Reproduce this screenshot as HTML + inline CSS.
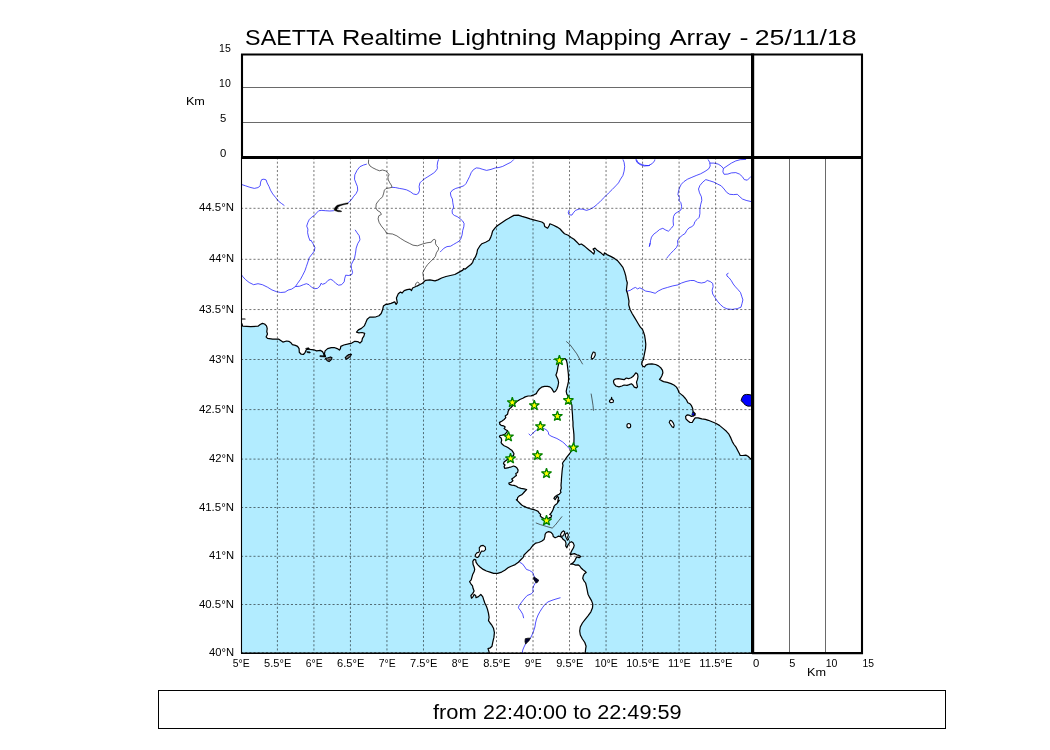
<!DOCTYPE html>
<html><head><meta charset="utf-8"><title>SAETTA Realtime Lightning Mapping Array</title>
<style>
html,body{margin:0;padding:0;background:#fff;}
body{width:1050px;height:750px;overflow:hidden;position:relative;}
svg{position:absolute;left:0;top:0;display:block;will-change:transform;opacity:0.999;}
text{font-family:"Liberation Sans",sans-serif;fill:#000;}
.t{font-size:10.4px;}
</style></head><body>
<svg width="1050" height="750" viewBox="0 0 1050 750">
<defs><clipPath id="mc"><rect x="241" y="157.5" width="511" height="495.6"/></clipPath>
</defs>
<rect x="0" y="0" width="1050" height="750" fill="#ffffff"/>
<g clip-path="url(#mc)">
<path d="M230.0 323.7 L241.9 323.7 L242.6 326.2 L250.7 326.7 L258.0 326.2 L260.2 324.5 L262.4 323.4 L264.6 324.0 L266.5 325.9 L267.2 328.4 L266.8 331.8 L267.5 334.0 L266.1 336.9 L267.5 338.4 L272.7 339.1 L278.5 339.1 L280.7 340.6 L282.9 342.1 L286.6 341.0 L288.8 341.3 L291.0 342.8 L292.4 344.6 L295.4 345.4 L297.6 346.4 L299.1 348.6 L299.3 352.3 L301.2 354.2 L303.4 354.5 L305.2 352.3 L306.1 350.1 L307.9 348.6 L310.1 349.4 L313.7 349.8 L316.6 350.9 L320.3 350.4 L322.5 351.6 L323.7 353.8 L324.0 355.7 L325.4 356.3 L324.4 353.8 L325.1 350.9 L327.6 348.6 L331.3 347.6 L334.2 347.5 L337.2 348.6 L339.4 350.1 L340.4 348.6 L340.8 346.4 L343.8 345.0 L347.4 344.2 L351.8 343.1 L354.8 341.3 L357.7 341.6 L359.9 343.1 L361.8 341.3 L362.4 338.4 L363.9 336.2 L364.7 333.3 L362.1 332.5 L358.9 332.8 L356.5 332.2 L358.4 329.9 L361.4 328.4 L364.3 325.9 L365.8 322.6 L367.2 319.3 L369.7 317.1 L373.1 317.1 L376.0 316.8 L379.0 315.7 L381.2 313.5 L382.6 309.8 L383.4 306.1 L386.0 304.2 L387.3 304.4 L391.0 303.4 L394.7 301.9 L396.1 304.4 L397.3 302.6 L396.4 297.9 L398.3 293.8 L400.5 292.1 L402.0 293.1 L404.2 290.6 L407.1 289.7 L410.1 289.1 L411.5 290.6 L412.6 288.0 L415.9 286.5 L419.6 284.8 L422.5 283.3 L425.4 280.4 L429.9 279.9 L435.0 280.9 L437.9 279.9 L441.6 278.0 L446.0 276.5 L450.4 275.5 L454.8 274.5 L459.2 272.1 L462.8 270.1 L463.6 268.6 L465.0 269.2 L468.0 266.7 L470.9 264.5 L472.7 262.3 L473.6 259.4 L475.3 257.2 L476.8 253.5 L477.5 249.8 L479.7 246.2 L481.9 243.7 L485.6 242.2 L489.2 240.3 L490.7 237.4 L491.7 234.5 L492.6 231.1 L495.1 227.9 L497.3 225.7 L501.7 222.7 L506.1 219.8 L510.5 217.3 L513.9 215.4 L518.3 215.2 L522.0 216.4 L526.4 217.6 L530.1 218.8 L533.7 219.8 L538.1 221.0 L541.8 222.0 L544.0 223.5 L544.7 226.4 L547.6 228.2 L549.1 225.7 L549.9 223.8 L553.5 225.2 L557.2 227.1 L560.1 229.0 L562.3 231.5 L564.5 233.7 L568.2 235.2 L571.1 237.4 L574.0 239.3 L577.0 242.2 L579.2 244.7 L581.4 244.0 L585.0 246.6 L588.7 249.8 L591.6 252.1 L593.8 254.0 L594.6 251.3 L593.1 249.1 L595.0 248.1 L597.5 250.6 L601.2 253.1 L603.8 255.4 L604.4 252.8 L607.0 254.6 L610.7 256.4 L614.4 258.4 L617.3 260.4 L620.2 263.8 L622.9 267.4 L624.6 271.9 L625.8 276.2 L626.4 279.9 L627.3 282.8 L626.8 286.5 L626.4 290.2 L627.6 293.8 L628.3 297.5 L629.0 301.2 L628.7 304.8 L629.8 308.5 L630.2 309.8 L632.1 313.5 L634.3 317.1 L636.5 320.8 L638.4 324.0 L640.2 326.9 L642.4 329.3 L643.4 331.8 L644.6 335.4 L645.3 339.9 L645.8 344.2 L645.5 348.6 L644.6 353.1 L643.9 356.7 L643.4 359.6 L642.0 361.6 L641.7 364.1 L642.8 366.2 L644.6 367.0 L645.8 365.1 L648.3 364.1 L651.9 363.8 L655.6 364.5 L658.5 365.9 L660.7 367.7 L662.5 370.4 L662.9 372.8 L661.9 375.8 L660.7 378.0 L659.5 379.4 L661.5 380.6 L663.6 381.6 L667.3 382.4 L671.0 383.6 L673.9 385.0 L676.5 387.1 L678.0 389.7 L679.0 392.6 L681.2 394.4 L683.5 396.3 L685.4 398.5 L686.4 399.8 L687.8 402.7 L690.0 403.8 L691.5 405.7 L692.7 408.6 L693.0 411.5 L695.2 413.7 L693.7 415.9 L691.5 416.4 L689.3 415.2 L687.1 414.9 L685.6 416.4 L685.9 418.9 L687.8 420.8 L690.0 422.5 L692.2 422.5 L693.7 419.9 L695.2 417.8 L698.1 417.8 L701.8 418.9 L705.4 419.3 L708.4 420.3 L712.0 421.8 L715.7 423.3 L719.4 425.4 L723.0 428.4 L726.4 431.3 L728.9 434.2 L730.8 437.9 L732.3 441.6 L734.0 444.5 L736.2 447.4 L737.7 450.4 L739.2 453.3 L740.2 455.5 L742.8 455.5 L745.8 455.1 L748.0 456.2 L750.2 458.4 L752.1 460.4 L760.0 460.4 L760.0 660.0 L230.0 660.0 Z" fill="#b2ecff" stroke="none"/>
<path d="M499.4 422.4 L501.7 421.2 L504.1 419.5 L505.8 417.7 L505.2 415.9 L507.6 414.2 L508.2 411.2 L509.4 408.9 L511.1 407.5 L512.9 405.4 L515.2 403.0 L517.6 400.9 L519.9 399.5 L522.8 398.3 L525.2 396.9 L528.1 396.0 L531.1 395.8 L534.0 394.8 L536.3 393.6 L537.5 391.3 L539.3 389.0 L541.6 387.2 L544.5 386.4 L547.5 386.4 L549.8 386.9 L551.6 388.4 L552.8 390.4 L553.9 392.2 L555.5 391.3 L556.9 389.0 L558.0 386.0 L558.6 382.5 L558.0 379.6 L556.9 377.2 L555.9 374.9 L556.9 372.5 L557.5 369.6 L558.0 366.7 L558.6 364.3 L559.2 361.7 L560.4 359.6 L562.7 358.5 L565.1 358.7 L566.5 360.6 L567.2 363.7 L567.6 367.3 L568.0 370.8 L568.4 374.3 L568.6 378.4 L568.4 381.9 L567.6 385.4 L566.8 388.4 L566.2 391.3 L566.8 394.2 L568.4 396.6 L569.8 398.9 L570.9 401.9 L571.9 405.4 L572.1 410.1 L572.5 414.8 L572.7 419.5 L573.0 422.0 L573.0 426.1 L573.5 430.2 L573.9 434.4 L574.0 438.5 L573.9 442.6 L573.5 445.5 L572.7 447.8 L571.5 450.2 L570.4 452.5 L568.6 454.9 L566.8 457.2 L565.1 459.6 L563.7 461.3 L562.5 463.3 L563.0 465.4 L562.5 467.8 L562.1 471.3 L561.8 474.8 L561.5 478.3 L561.3 481.9 L561.0 485.4 L561.3 488.3 L560.4 490.7 L561.0 492.4 L559.2 494.2 L556.9 495.4 L555.1 496.5 L553.9 498.3 L555.1 499.7 L556.3 497.7 L557.5 496.5 L558.6 497.7 L558.0 500.0 L557.5 503.0 L559.2 500.3 L558.0 502.0 L556.9 503.8 L555.1 505.0 L553.9 506.7 L553.3 509.1 L552.2 511.4 L551.0 513.2 L549.8 514.4 L551.6 515.5 L551.0 517.3 L549.2 517.9 L548.1 519.6 L545.1 520.2 L543.4 518.2 L541.6 517.3 L540.2 515.9 L540.7 514.4 L539.3 513.2 L538.1 511.4 L536.3 510.5 L534.0 509.7 L531.6 509.1 L529.3 508.5 L527.0 507.7 L525.2 506.7 L523.4 506.1 L521.7 505.0 L519.9 503.2 L518.1 501.4 L516.4 499.7 L517.2 500.0 L517.6 497.7 L519.3 495.9 L521.7 494.8 L523.4 493.0 L525.2 491.0 L526.6 489.5 L524.0 488.9 L521.1 488.3 L518.1 487.5 L516.4 486.3 L514.0 485.4 L511.7 485.1 L509.4 484.4 L508.8 483.0 L511.1 482.4 L512.9 480.7 L511.7 478.9 L513.5 477.8 L514.9 476.6 L516.4 475.4 L515.8 473.6 L517.6 472.5 L518.1 470.1 L517.0 468.0 L515.2 466.6 L513.5 466.0 L510.5 467.2 L507.6 467.8 L504.7 468.4 L504.1 466.6 L505.0 464.9 L503.5 463.7 L504.1 461.9 L506.4 460.2 L509.4 457.8 L511.7 456.6 L513.5 455.5 L514.0 453.7 L512.9 451.9 L511.7 450.2 L509.9 449.0 L508.2 447.8 L506.4 446.7 L504.1 445.7 L502.3 444.3 L501.1 442.6 L501.7 440.2 L501.1 437.9 L499.4 436.7 L500.0 435.5 L502.3 435.2 L504.7 434.4 L506.4 432.6 L507.6 430.8 L505.8 429.7 L504.1 428.5 L505.2 427.0 L503.5 425.8 L501.1 425.3 L499.6 424.1 L500.0 422.0 Z" fill="#ffffff" stroke="none"/>
<path d="M489.9 572.1 L493.6 573.4 L497.6 573.4 L501.6 572.1 L504.8 570.2 L508.0 567.8 L511.2 566.2 L515.2 564.6 L518.4 562.2 L520.8 559.8 L523.2 557.4 L524.0 555.0 L526.4 552.6 L528.8 550.2 L529.9 549.5 L531.6 547.2 L533.4 544.9 L535.8 543.1 L538.7 542.5 L541.6 541.3 L544.0 539.6 L544.9 536.6 L545.1 534.3 L546.3 532.5 L548.6 531.6 L551.0 532.3 L552.8 534.3 L553.3 536.6 L555.1 537.8 L556.9 537.0 L558.6 536.1 L560.4 536.6 L562.1 537.8 L563.3 539.6 L565.1 540.8 L566.0 543.1 L565.7 546.0 L566.8 547.8 L568.0 544.9 L569.8 542.5 L571.5 541.7 L573.3 543.1 L574.2 545.4 L573.5 547.8 L572.1 550.1 L570.9 552.5 L570.4 554.8 L572.1 554.2 L574.5 553.6 L576.8 554.8 L579.1 555.4 L580.9 556.6 L579.1 557.8 L576.8 556.9 L575.6 558.9 L574.5 561.3 L572.7 563.0 L570.4 564.2 L573.3 564.2 L575.6 565.1 L578.0 564.8 L579.7 566.0 L580.9 567.7 L582.7 569.5 L585.0 571.2 L586.2 572.4 L584.4 573.8 L583.3 575.9 L582.7 578.3 L583.8 580.6 L585.6 583.0 L586.4 586.2 L587.2 590.2 L588.0 594.2 L589.6 597.4 L591.5 600.6 L592.8 604.1 L592.5 607.8 L590.9 611.8 L588.0 615.8 L584.8 619.8 L582.4 623.0 L580.3 627.0 L579.7 631.0 L580.3 635.0 L582.4 639.0 L584.8 642.5 L586.1 646.2 L585.6 649.4 L585.1 654.2 L489.6 654.2 L488.8 651.0 L488.0 648.6 L490.4 647.8 L492.0 646.2 L492.8 642.2 L493.9 637.4 L494.4 632.6 L493.6 628.6 L492.0 625.4 L490.1 623.0 L488.5 620.6 L489.1 617.4 L488.5 613.4 L487.5 609.4 L486.4 606.2 L484.8 603.0 L483.7 599.8 L482.7 596.6 L480.8 594.5 L478.4 596.6 L476.0 597.7 L475.7 595.5 L474.1 594.5 L473.1 596.6 L471.5 598.2 L470.9 595.5 L472.8 593.4 L474.1 591.0 L473.1 588.6 L472.5 585.9 L470.9 583.8 L469.6 581.7 L471.2 579.8 L472.0 576.9 L472.8 574.2 L474.1 571.8 L474.7 569.4 L474.1 567.0 L473.1 564.6 L472.8 561.4 L474.1 559.3 L475.7 559.8 L476.0 562.2 L477.6 564.6 L480.0 567.0 L483.2 569.4 L486.4 571.0 Z" fill="#ffffff" stroke="none"/>
<path d="M476.0 557.1 L475.2 555.0 L476.8 552.9 L478.9 552.3 L479.5 550.2 L479.2 547.8 L480.8 545.9 L483.2 545.4 L485.3 547.0 L485.6 549.7 L483.7 551.3 L481.6 551.0 L480.5 552.9 L479.2 555.5 L477.9 557.4 Z" fill="#ffffff" stroke="none"/>
<path d="M560.4 534.9 L561.5 532.5 L563.3 530.8 L564.8 532.0 L564.1 534.3 L562.7 536.1 L561.3 536.3 Z" fill="#ffffff" stroke="none"/>
<path d="M565.7 533.7 L567.4 532.8 L568.4 534.9 L567.6 537.2 L568.6 539.3 L567.4 540.2 L566.2 537.8 L565.3 535.8 Z" fill="#ffffff" stroke="none"/>
<path d="M613.8 380.2 L615.3 379.1 L618.2 378.7 L621.1 379.1 L624.1 379.7 L626.3 378.0 L628.5 378.7 L631.1 377.7 L632.9 376.5 L634.3 374.8 L635.8 372.8 L637.5 373.9 L638.0 376.5 L637.5 379.4 L636.5 382.1 L637.0 384.6 L637.5 386.8 L636.5 387.9 L634.3 387.1 L632.9 385.0 L631.4 383.8 L629.2 384.6 L627.0 385.3 L624.1 385.0 L621.9 386.0 L618.9 386.8 L616.0 386.0 L614.1 383.8 L613.5 381.6 Z" fill="#ffffff" stroke="none"/>
<path d="M611.6 397.3 L612.0 399.1 L613.5 400.5 L613.1 402.3 L610.9 402.7 L609.4 401.7 L609.7 400.2 L611.2 399.4 Z" fill="#ffffff" stroke="none"/>
<path d="M670.2 420.3 L671.7 420.8 L673.2 422.8 L674.2 425.4 L673.6 427.6 L672.2 426.9 L670.7 424.7 L669.2 422.5 Z" fill="#ffffff" stroke="none"/>
<path d="M593.2 352.0 L595.0 352.6 L595.3 354.9 L594.2 357.3 L592.3 359.1 L591.2 357.9 L591.8 354.9 Z" fill="#ffffff" stroke="none"/>
<path d="M325.4 358.2 L328.1 357.7 L330.6 356.9 L332.0 357.7 L331.3 359.6 L329.1 361.6 L327.2 360.7 Z" fill="#777" stroke="none"/>
<path d="M345.2 357.7 L346.7 356.0 L348.9 354.5 L351.5 354.2 L350.4 356.3 L348.2 358.2 L346.3 359.2 Z" fill="#777" stroke="none"/>
<ellipse cx="628.8" cy="425.7" rx="1.9" ry="2.2" fill="#fff"/>
<g fill="none" stroke="#1515ff" stroke-width="0.75" stroke-linejoin="round">
<path d="M241.9 184.6 L245.5 185.8 L249.9 187.3 L254.3 188.4 L258.0 187.6 L260.2 185.8 L260.6 182.1 L261.7 179.6 L263.9 179.2 L266.1 179.9 L267.1 182.9 L269.0 186.5 L270.5 190.2 L272.7 193.9 L275.6 197.5 L278.5 201.2 L281.4 203.4 L284.4 205.6"/>
<path d="M366.8 164.1 L363.6 165.0 L359.9 166.7 L357.0 170.4 L354.8 174.8 L354.5 179.2 L355.9 182.9 L357.4 186.5 L357.7 190.2 L356.2 193.4 L353.3 196.8 L351.1 200.2 L348.2 202.7"/>
<path d="M333.9 210.7 L329.8 211.0 L325.4 210.7 L321.8 210.4 L318.8 210.7 L316.6 212.9 L314.4 215.4 L311.5 217.3 L309.3 219.5 L307.9 222.4 L306.7 226.1 L307.9 229.1 L307.6 232.7 L308.6 237.1 L310.1 240.8 L310.8 240.0 L313.0 243.7 L314.9 247.3 L314.4 251.0 L312.2 253.9 L309.3 257.6 L307.9 262.0 L306.4 266.4 L304.9 270.8 L302.7 275.2 L300.5 279.3 L297.6 283.3 L295.4 286.6 L291.7 289.1 L288.1 290.1 L285.1 292.1 L280.7 292.5 L276.3 291.6 L271.9 289.9 L267.5 287.2 L262.4 284.7 L258.0 283.7 L253.6 284.7 L249.2 282.5 L245.5 279.6 L242.6 276.4 L241.9 275.2"/>
<path d="M355.1 229.8 L357.0 232.7 L359.2 235.7 L359.9 239.3 L359.9 240.0 L357.7 243.7 L356.2 248.1 L355.5 253.2 L354.5 258.3 L352.6 262.0 L351.1 264.9 L351.5 268.6 L352.6 272.3 L351.8 274.5 L348.9 275.5 L345.7 275.2 L344.8 278.1 L344.2 281.8 L341.6 284.7 L338.6 285.2 L335.7 283.3 L332.8 280.3 L330.6 279.3 L328.1 280.3 L325.4 283.3 L322.5 284.3 L321.0 283.3 L319.9 286.2 L317.4 288.4 L314.4 288.7 L311.5 287.2 L309.0 284.7 L306.4 283.7 L303.4 284.7 L299.8 286.2 L295.4 286.6"/>
<path d="M392.0 187.3 L395.7 187.6 L399.3 188.4 L403.0 189.0 L406.7 189.9 L410.3 191.7 L413.3 193.9 L416.2 194.6 L418.4 193.4 L419.6 190.2 L419.1 186.5 L419.9 182.9 L422.1 180.7 L425.0 178.5 L427.9 176.7 L430.9 174.8 L433.8 172.9 L436.0 170.8 L437.4 168.5 L437.2 165.3 L437.7 162.0 L438.6 159.4"/>
<path d="M513.9 159.4 L511.7 161.6 L510.8 162.3 L507.1 164.1 L502.7 166.4 L499.0 167.5 L495.4 167.9 L491.0 169.4 L486.6 170.4 L482.9 169.4 L479.2 168.2 L476.3 167.9 L473.4 169.7 L471.2 172.6 L469.7 176.3 L467.9 179.9 L466.0 183.6 L463.8 185.8 L459.7 187.3 L455.8 188.4 L452.4 190.2 L450.4 192.8 L450.9 196.1 L452.4 199.0 L452.8 202.7 L453.6 207.1 L452.1 210.7 L452.4 213.7 L454.3 215.4 L457.2 216.6 L460.2 218.8 L462.7 221.0 L464.1 223.6 L463.8 226.8 L462.7 230.5 L462.1 234.9 L460.9 238.6 L459.1 241.2 L456.5 242.7 L453.6 244.4 L450.6 246.2 L447.0 246.6 L444.1 248.1 L441.9 250.3 L440.1 252.1"/>
<path d="M622.9 159.4 L624.1 162.3 L624.7 166.7 L624.1 171.1 L622.9 175.5 L620.5 179.2 L618.5 182.9 L615.8 185.8 L612.2 189.5 L608.5 193.1 L604.8 196.8 L601.2 200.4 L597.5 204.1 L593.8 207.1 L590.2 209.2 L586.5 210.4 L582.8 209.2 L579.2 209.0 L575.5 210.4 L573.3 212.9 L571.9 215.1 L569.2 214.8 L568.2 212.9 L569.2 210.0"/>
<path d="M635.8 159.4 L636.9 162.3 L639.8 164.5 L644.2 166.0 L648.6 165.6 L652.3 163.5 L654.5 160.9 L654.9 159.4"/>
<path d="M708.0 159.4 L709.7 162.3 L710.2 166.0 L708.7 168.9 L705.0 171.4 L700.6 173.8 L696.2 175.5 L691.9 177.3 L687.5 179.2 L683.8 181.7 L681.3 184.3 L679.4 188.0 L678.4 191.7 L677.9 194.6 L679.4 197.5 L678.9 200.4 L680.9 202.7 L681.6 206.3 L680.9 210.0 L677.9 211.9 L675.0 213.7 L673.5 216.6 L673.1 221.0 L673.5 225.4 L671.3 228.3 L668.4 231.2 L665.8 230.1 L662.8 228.3 L659.6 229.5 L656.7 232.0 L653.7 234.2 L651.5 237.1 L650.5 240.8 L650.1 244.4 L649.3 246.6"/>
<path d="M666.6 258.4 L668.1 256.5 L670.6 253.5 L673.5 250.6 L676.5 247.4 L677.9 244.4 L677.5 240.8 L679.4 237.8 L682.3 235.3 L685.2 233.4 L686.7 230.5 L688.9 228.0 L691.9 226.6 L694.0 224.7 L694.8 221.7 L697.0 219.5 L699.2 217.3 L699.9 213.7 L699.9 209.2 L700.6 204.8 L701.8 200.4 L701.4 196.8 L699.5 192.8 L698.5 189.0 L699.9 185.5 L702.8 182.1 L705.8 179.6 L709.4 180.7 L713.8 182.1 L717.5 184.0 L721.2 185.8 L724.1 189.0 L726.7 192.4 L729.7 194.3 L733.6 194.6 L737.3 194.3 L739.9 196.8 L742.4 199.0 L746.1 200.4 L751.2 201.6"/>
<path d="M709.7 163.1 L713.8 163.1 L718.2 164.1 L721.2 166.0 L723.4 168.5 L722.9 171.9 L724.1 174.3 L727.8 174.1 L731.4 172.9 L735.8 172.6 L739.5 174.1 L742.4 176.7 L744.3 179.6 L747.3 180.2 L749.8 177.7 L751.2 176.3"/>
<path d="M723.4 168.5 L727.0 166.0 L731.4 163.1 L735.8 160.9 L740.2 159.7 L746.1 159.4"/>
<path d="M626.6 291.4 L630.3 290.3 L633.2 288.4 L635.4 287.4 L637.6 288.9 L639.8 287.8 L642.0 288.9 L645.7 291.1 L650.1 291.8 L655.2 293.3 L658.1 291.1 L662.5 288.9 L667.6 287.4 L672.8 285.9 L677.9 284.9 L681.6 283.0 L686.0 281.5 L690.4 280.5 L694.0 280.5 L697.7 282.3 L701.4 283.0 L705.0 282.3 L707.2 280.5 L710.2 281.5 L712.7 283.4 L713.1 286.7 L712.1 290.3 L712.7 294.0 L715.0 297.6 L717.5 301.3 L720.4 304.6 L723.4 307.2 L727.0 308.9 L732.2 309.4 L737.3 308.6 L741.0 307.2 L742.0 303.5 L742.9 299.9 L741.7 296.2 L740.5 292.5 L738.0 289.6 L735.5 286.9 L733.2 284.0 L731.4 280.8 L729.2 277.9 L727.0 276.1 L726.7 274.2 L728.5 273.2"/>
<path d="M636.4 159.4 L637.8 162.3 L640.8 164.1 L644.4 165.3 L648.1 165.6 L650.0 165.3"/>
<path d="M650.0 243.0 L649.3 246.6"/>
<path d="M528.7 433.8 L530.5 435.5 L532.2 434.0 L534.0 432.0 L536.3 430.2 L538.7 429.1 L541.6 428.5 L544.5 428.8 L546.9 430.2 L548.4 432.4 L548.6 434.4 L551.0 436.1 L553.9 437.3 L556.9 438.5 L559.8 440.2 L562.7 442.0 L565.1 444.1 L566.8 446.1 L568.6 447.8 L570.9 449.0"/>
<path d="M519.5 562.2 L522.4 563.8 L524.8 567.0 L526.4 569.4 L529.6 570.5 L532.8 572.6 L533.9 575.8 L535.2 578.5"/>
<path d="M535.5 582.7 L533.9 585.4 L532.8 588.6 L533.3 591.8 L531.2 593.9 L527.2 595.5 L524.0 599.0 L521.6 602.2 L519.2 605.4 L518.4 607.8 L520.8 611.0 L522.7 614.2 L523.7 618.2"/>
<path d="M560.5 597.7 L556.0 599.0 L552.0 600.3 L548.0 601.9 L544.8 604.6 L542.4 607.8 L540.0 611.5 L538.1 615.0 L536.5 619.0 L535.5 623.0 L534.9 627.0 L533.6 631.0 L532.0 635.0 L530.4 638.2"/>
<path d="M525.6 643.8 L524.0 647.0 L522.7 650.2 L522.1 654.2"/>
</g>
<g fill="#0000ff" stroke="#000" stroke-width="0.8" stroke-linejoin="round">
<path d="M753.0 395.2 L751.2 395.1 L749.0 394.6 L746.6 394.4 L743.8 395.0 L742.6 396.6 L741.6 398.6 L741.2 400.6 L741.8 401.6 L743.0 402.2 L743.8 403.6 L745.4 405.0 L747.4 406.0 L749.4 406.2 L751.2 405.9 L753.0 405.8 Z" stroke-width="1.0"/>
<path d="M348.2 202.8 L345.6 203.2 L342.4 203.9 L339.2 204.7 L337.2 205.3 L335.8 206.4 L334.8 207.8 L334.1 209.6 L334.5 210.6 L336.0 211.0 L338.0 211.7 L341.2 211.8 L341.8 211.2 L340.0 210.6 L337.8 210.2 L336.8 209.7 L337.2 208.4 L338.2 207.0 L340.0 205.9 L342.8 205.0 L346.0 204.3 L348.0 203.9 Z" fill="#000" stroke-width="0.4"/>
<path d="M533.9 576.9 L535.5 577.9 L537.1 579.0 L538.7 580.1 L537.6 582.2 L536.0 583.0 L534.9 581.1 L533.6 579.0 Z" fill="#000030"/>
<path d="M525.3 638.7 L528.0 638.2 L530.4 638.2 L529.1 640.6 L527.2 642.5 L525.6 644.1 L525.0 641.4 Z" fill="#000030"/>
<path d="M692.7 412.0 L694.7 414.0 L695.6 415.2 L693.3 415.8 L691.8 414.9 Z" stroke-width="0.6"/>
</g>
<g fill="none" stroke="#222" stroke-width="0.7" stroke-linejoin="round">
<path d="M424.0 280.4 L423.3 276.2 L422.8 272.6 L424.0 270.4 L425.4 267.7 L427.6 264.5 L430.6 261.6 L433.5 258.6 L435.4 256.4 L436.4 252.8 L438.4 249.8 L438.6 247.7 L436.4 245.4 L435.4 243.3 L435.7 240.3 L434.2 239.3 L432.5 240.3 L431.3 242.2 L426.9 242.8 L422.5 244.0 L417.4 245.8 L413.0 245.2 L409.3 243.3 L404.9 241.1 L400.5 238.4 L396.9 235.9 L392.5 234.0 L388.8 233.7 L386.2 233.0 L386.1 232.0 L383.9 229.1 L381.4 226.1 L379.1 222.4 L378.1 218.8 L378.8 215.8 L381.4 214.4 L380.3 212.2 L377.3 210.4 L375.9 207.8 L376.2 204.1 L378.1 201.2 L380.3 199.0 L382.5 196.8 L383.5 193.9 L384.4 190.2 L386.1 188.4 L389.1 188.0 L392.0 187.3 L391.3 185.1 L389.8 182.9 L388.3 179.9 L387.9 177.0 L389.1 174.8 L387.6 172.6 L385.4 170.8 L382.5 170.0 L379.5 170.8 L376.6 169.7 L372.9 167.9 L370.0 166.0 L368.4 163.1 L368.7 159.4"/>
<path d="M415.2 285.8 L415.9 283.3 L417.8 282.1 L419.3 283.3 L418.9 285.3 L417.4 286.5"/>
<path d="M566.2 341.4 L569.8 344.4 L573.3 349.1 L576.8 353.8 L579.7 359.1 L582.7 364.3"/>
<path d="M591.1 393.6 L592.0 398.9 L593.0 405.4 L593.5 410.7"/>
<path d="M535.8 522.9 L540.4 524.6 L546.3 526.4 L552.2 528.1 L555.1 525.3 L558.6 520.8 L562.1 516.4"/>
</g>
<g fill="none" stroke="#000" stroke-width="1.22" stroke-linejoin="round" stroke-linecap="round">
<path d="M241.9 323.7 L242.6 326.2 L250.7 326.7 L258.0 326.2 L260.2 324.5 L262.4 323.4 L264.6 324.0 L266.5 325.9 L267.2 328.4 L266.8 331.8 L267.5 334.0 L266.1 336.9 L267.5 338.4 L272.7 339.1 L278.5 339.1 L280.7 340.6 L282.9 342.1 L286.6 341.0 L288.8 341.3 L291.0 342.8 L292.4 344.6 L295.4 345.4 L297.6 346.4 L299.1 348.6 L299.3 352.3 L301.2 354.2 L303.4 354.5 L305.2 352.3 L306.1 350.1 L307.9 348.6 L310.1 349.4 L313.7 349.8 L316.6 350.9 L320.3 350.4 L322.5 351.6 L323.7 353.8 L324.0 355.7 L325.4 356.3 L324.4 353.8 L325.1 350.9 L327.6 348.6 L331.3 347.6 L334.2 347.5 L337.2 348.6 L339.4 350.1 L340.4 348.6 L340.8 346.4 L343.8 345.0 L347.4 344.2 L351.8 343.1 L354.8 341.3 L357.7 341.6 L359.9 343.1 L361.8 341.3 L362.4 338.4 L363.9 336.2 L364.7 333.3 L362.1 332.5 L358.9 332.8 L356.5 332.2 L358.4 329.9 L361.4 328.4 L364.3 325.9 L365.8 322.6 L367.2 319.3 L369.7 317.1 L373.1 317.1 L376.0 316.8 L379.0 315.7 L381.2 313.5 L382.6 309.8 L383.4 306.1 L386.0 304.2 L387.3 304.4 L391.0 303.4 L394.7 301.9 L396.1 304.4 L397.3 302.6 L396.4 297.9 L398.3 293.8 L400.5 292.1 L402.0 293.1 L404.2 290.6 L407.1 289.7 L410.1 289.1 L411.5 290.6 L412.6 288.0 L415.9 286.5 L419.6 284.8 L422.5 283.3 L425.4 280.4 L429.9 279.9 L435.0 280.9 L437.9 279.9 L441.6 278.0 L446.0 276.5 L450.4 275.5 L454.8 274.5 L459.2 272.1 L462.8 270.1 L463.6 268.6 L465.0 269.2 L468.0 266.7 L470.9 264.5 L472.7 262.3 L473.6 259.4 L475.3 257.2 L476.8 253.5 L477.5 249.8 L479.7 246.2 L481.9 243.7 L485.6 242.2 L489.2 240.3 L490.7 237.4 L491.7 234.5 L492.6 231.1 L495.1 227.9 L497.3 225.7 L501.7 222.7 L506.1 219.8 L510.5 217.3 L513.9 215.4 L518.3 215.2 L522.0 216.4 L526.4 217.6 L530.1 218.8 L533.7 219.8 L538.1 221.0 L541.8 222.0 L544.0 223.5 L544.7 226.4 L547.6 228.2 L549.1 225.7 L549.9 223.8 L553.5 225.2 L557.2 227.1 L560.1 229.0 L562.3 231.5 L564.5 233.7 L568.2 235.2 L571.1 237.4 L574.0 239.3 L577.0 242.2 L579.2 244.7 L581.4 244.0 L585.0 246.6 L588.7 249.8 L591.6 252.1 L593.8 254.0 L594.6 251.3 L593.1 249.1 L595.0 248.1 L597.5 250.6 L601.2 253.1 L603.8 255.4 L604.4 252.8 L607.0 254.6 L610.7 256.4 L614.4 258.4 L617.3 260.4 L620.2 263.8 L622.9 267.4 L624.6 271.9 L625.8 276.2 L626.4 279.9 L627.3 282.8 L626.8 286.5 L626.4 290.2 L627.6 293.8 L628.3 297.5 L629.0 301.2 L628.7 304.8 L629.8 308.5 L630.2 309.8 L632.1 313.5 L634.3 317.1 L636.5 320.8 L638.4 324.0 L640.2 326.9 L642.4 329.3 L643.4 331.8 L644.6 335.4 L645.3 339.9 L645.8 344.2 L645.5 348.6 L644.6 353.1 L643.9 356.7 L643.4 359.6 L642.0 361.6 L641.7 364.1 L642.8 366.2 L644.6 367.0 L645.8 365.1 L648.3 364.1 L651.9 363.8 L655.6 364.5 L658.5 365.9 L660.7 367.7 L662.5 370.4 L662.9 372.8 L661.9 375.8 L660.7 378.0 L659.5 379.4 L661.5 380.6 L663.6 381.6 L667.3 382.4 L671.0 383.6 L673.9 385.0 L676.5 387.1 L678.0 389.7 L679.0 392.6 L681.2 394.4 L683.5 396.3 L685.4 398.5 L686.4 399.8 L687.8 402.7 L690.0 403.8 L691.5 405.7 L692.7 408.6 L693.0 411.5 L695.2 413.7 L693.7 415.9 L691.5 416.4 L689.3 415.2 L687.1 414.9 L685.6 416.4 L685.9 418.9 L687.8 420.8 L690.0 422.5 L692.2 422.5 L693.7 419.9 L695.2 417.8 L698.1 417.8 L701.8 418.9 L705.4 419.3 L708.4 420.3 L712.0 421.8 L715.7 423.3 L719.4 425.4 L723.0 428.4 L726.4 431.3 L728.9 434.2 L730.8 437.9 L732.3 441.6 L734.0 444.5 L736.2 447.4 L737.7 450.4 L739.2 453.3 L740.2 455.5 L742.8 455.5 L745.8 455.1 L748.0 456.2 L750.2 458.4 L752.1 460.4"/>
<path d="M499.4 422.4 L501.7 421.2 L504.1 419.5 L505.8 417.7 L505.2 415.9 L507.6 414.2 L508.2 411.2 L509.4 408.9 L511.1 407.5 L512.9 405.4 L515.2 403.0 L517.6 400.9 L519.9 399.5 L522.8 398.3 L525.2 396.9 L528.1 396.0 L531.1 395.8 L534.0 394.8 L536.3 393.6 L537.5 391.3 L539.3 389.0 L541.6 387.2 L544.5 386.4 L547.5 386.4 L549.8 386.9 L551.6 388.4 L552.8 390.4 L553.9 392.2 L555.5 391.3 L556.9 389.0 L558.0 386.0 L558.6 382.5 L558.0 379.6 L556.9 377.2 L555.9 374.9 L556.9 372.5 L557.5 369.6 L558.0 366.7 L558.6 364.3 L559.2 361.7 L560.4 359.6 L562.7 358.5 L565.1 358.7 L566.5 360.6 L567.2 363.7 L567.6 367.3 L568.0 370.8 L568.4 374.3 L568.6 378.4 L568.4 381.9 L567.6 385.4 L566.8 388.4 L566.2 391.3 L566.8 394.2 L568.4 396.6 L569.8 398.9 L570.9 401.9 L571.9 405.4 L572.1 410.1 L572.5 414.8 L572.7 419.5 L573.0 422.0 L573.0 426.1 L573.5 430.2 L573.9 434.4 L574.0 438.5 L573.9 442.6 L573.5 445.5 L572.7 447.8 L571.5 450.2 L570.4 452.5 L568.6 454.9 L566.8 457.2 L565.1 459.6 L563.7 461.3 L562.5 463.3 L563.0 465.4 L562.5 467.8 L562.1 471.3 L561.8 474.8 L561.5 478.3 L561.3 481.9 L561.0 485.4 L561.3 488.3 L560.4 490.7 L561.0 492.4 L559.2 494.2 L556.9 495.4 L555.1 496.5 L553.9 498.3 L555.1 499.7 L556.3 497.7 L557.5 496.5 L558.6 497.7 L558.0 500.0 L557.5 503.0 L559.2 500.3 L558.0 502.0 L556.9 503.8 L555.1 505.0 L553.9 506.7 L553.3 509.1 L552.2 511.4 L551.0 513.2 L549.8 514.4 L551.6 515.5 L551.0 517.3 L549.2 517.9 L548.1 519.6 L545.1 520.2 L543.4 518.2 L541.6 517.3 L540.2 515.9 L540.7 514.4 L539.3 513.2 L538.1 511.4 L536.3 510.5 L534.0 509.7 L531.6 509.1 L529.3 508.5 L527.0 507.7 L525.2 506.7 L523.4 506.1 L521.7 505.0 L519.9 503.2 L518.1 501.4 L516.4 499.7 L517.2 500.0 L517.6 497.7 L519.3 495.9 L521.7 494.8 L523.4 493.0 L525.2 491.0 L526.6 489.5 L524.0 488.9 L521.1 488.3 L518.1 487.5 L516.4 486.3 L514.0 485.4 L511.7 485.1 L509.4 484.4 L508.8 483.0 L511.1 482.4 L512.9 480.7 L511.7 478.9 L513.5 477.8 L514.9 476.6 L516.4 475.4 L515.8 473.6 L517.6 472.5 L518.1 470.1 L517.0 468.0 L515.2 466.6 L513.5 466.0 L510.5 467.2 L507.6 467.8 L504.7 468.4 L504.1 466.6 L505.0 464.9 L503.5 463.7 L504.1 461.9 L506.4 460.2 L509.4 457.8 L511.7 456.6 L513.5 455.5 L514.0 453.7 L512.9 451.9 L511.7 450.2 L509.9 449.0 L508.2 447.8 L506.4 446.7 L504.1 445.7 L502.3 444.3 L501.1 442.6 L501.7 440.2 L501.1 437.9 L499.4 436.7 L500.0 435.5 L502.3 435.2 L504.7 434.4 L506.4 432.6 L507.6 430.8 L505.8 429.7 L504.1 428.5 L505.2 427.0 L503.5 425.8 L501.1 425.3 L499.6 424.1 L500.0 422.0 Z"/>
<path d="M489.9 572.1 L493.6 573.4 L497.6 573.4 L501.6 572.1 L504.8 570.2 L508.0 567.8 L511.2 566.2 L515.2 564.6 L518.4 562.2 L520.8 559.8 L523.2 557.4 L524.0 555.0 L526.4 552.6 L528.8 550.2 L529.9 549.5 L531.6 547.2 L533.4 544.9 L535.8 543.1 L538.7 542.5 L541.6 541.3 L544.0 539.6 L544.9 536.6 L545.1 534.3 L546.3 532.5 L548.6 531.6 L551.0 532.3 L552.8 534.3 L553.3 536.6 L555.1 537.8 L556.9 537.0 L558.6 536.1 L560.4 536.6 L562.1 537.8 L563.3 539.6 L565.1 540.8 L566.0 543.1 L565.7 546.0 L566.8 547.8 L568.0 544.9 L569.8 542.5 L571.5 541.7 L573.3 543.1 L574.2 545.4 L573.5 547.8 L572.1 550.1 L570.9 552.5 L570.4 554.8 L572.1 554.2 L574.5 553.6 L576.8 554.8 L579.1 555.4 L580.9 556.6 L579.1 557.8 L576.8 556.9 L575.6 558.9 L574.5 561.3 L572.7 563.0 L570.4 564.2 L573.3 564.2 L575.6 565.1 L578.0 564.8 L579.7 566.0 L580.9 567.7 L582.7 569.5 L585.0 571.2 L586.2 572.4 L584.4 573.8 L583.3 575.9 L582.7 578.3 L583.8 580.6 L585.6 583.0 L586.4 586.2 L587.2 590.2 L588.0 594.2 L589.6 597.4 L591.5 600.6 L592.8 604.1 L592.5 607.8 L590.9 611.8 L588.0 615.8 L584.8 619.8 L582.4 623.0 L580.3 627.0 L579.7 631.0 L580.3 635.0 L582.4 639.0 L584.8 642.5 L586.1 646.2 L585.6 649.4 L585.1 654.2 L489.6 654.2 L488.8 651.0 L488.0 648.6 L490.4 647.8 L492.0 646.2 L492.8 642.2 L493.9 637.4 L494.4 632.6 L493.6 628.6 L492.0 625.4 L490.1 623.0 L488.5 620.6 L489.1 617.4 L488.5 613.4 L487.5 609.4 L486.4 606.2 L484.8 603.0 L483.7 599.8 L482.7 596.6 L480.8 594.5 L478.4 596.6 L476.0 597.7 L475.7 595.5 L474.1 594.5 L473.1 596.6 L471.5 598.2 L470.9 595.5 L472.8 593.4 L474.1 591.0 L473.1 588.6 L472.5 585.9 L470.9 583.8 L469.6 581.7 L471.2 579.8 L472.0 576.9 L472.8 574.2 L474.1 571.8 L474.7 569.4 L474.1 567.0 L473.1 564.6 L472.8 561.4 L474.1 559.3 L475.7 559.8 L476.0 562.2 L477.6 564.6 L480.0 567.0 L483.2 569.4 L486.4 571.0 Z"/>
<path d="M476.0 557.1 L475.2 555.0 L476.8 552.9 L478.9 552.3 L479.5 550.2 L479.2 547.8 L480.8 545.9 L483.2 545.4 L485.3 547.0 L485.6 549.7 L483.7 551.3 L481.6 551.0 L480.5 552.9 L479.2 555.5 L477.9 557.4 Z" stroke-width="1.1"/>
<path d="M560.4 534.9 L561.5 532.5 L563.3 530.8 L564.8 532.0 L564.1 534.3 L562.7 536.1 L561.3 536.3 Z" stroke-width="1.1"/>
<path d="M565.7 533.7 L567.4 532.8 L568.4 534.9 L567.6 537.2 L568.6 539.3 L567.4 540.2 L566.2 537.8 L565.3 535.8 Z" stroke-width="1.1"/>
<path d="M613.8 380.2 L615.3 379.1 L618.2 378.7 L621.1 379.1 L624.1 379.7 L626.3 378.0 L628.5 378.7 L631.1 377.7 L632.9 376.5 L634.3 374.8 L635.8 372.8 L637.5 373.9 L638.0 376.5 L637.5 379.4 L636.5 382.1 L637.0 384.6 L637.5 386.8 L636.5 387.9 L634.3 387.1 L632.9 385.0 L631.4 383.8 L629.2 384.6 L627.0 385.3 L624.1 385.0 L621.9 386.0 L618.9 386.8 L616.0 386.0 L614.1 383.8 L613.5 381.6 Z"/>
<path d="M611.6 397.3 L612.0 399.1 L613.5 400.5 L613.1 402.3 L610.9 402.7 L609.4 401.7 L609.7 400.2 L611.2 399.4 Z" stroke-width="1.1"/>
<path d="M670.2 420.3 L671.7 420.8 L673.2 422.8 L674.2 425.4 L673.6 427.6 L672.2 426.9 L670.7 424.7 L669.2 422.5 Z" stroke-width="1.1"/>
<path d="M593.2 352.0 L595.0 352.6 L595.3 354.9 L594.2 357.3 L592.3 359.1 L591.2 357.9 L591.8 354.9 Z" stroke-width="1.1"/>
<path d="M325.4 358.2 L328.1 357.7 L330.6 356.9 L332.0 357.7 L331.3 359.6 L329.1 361.6 L327.2 360.7 Z" stroke-width="1.1"/>
<path d="M345.2 357.7 L346.7 356.0 L348.9 354.5 L351.5 354.2 L350.4 356.3 L348.2 358.2 L346.3 359.2 Z" stroke-width="1.1"/>
<ellipse cx="628.8" cy="425.7" rx="1.9" ry="2.2" stroke-width="1.1"/>
<path d="M306.1 348.4 L308.6 347.8 L308.9 349.2 L306.7 349.5 Z" fill="#000" stroke-width="0.8"/>
<path d="M307.1 351.7 L310.1 352.0 L310.1 352.9 L307.6 352.6 Z" fill="#000" stroke-width="0.8"/>
<path d="M320.3 355.7 L325.4 356.0 L325.4 356.9 L320.3 356.6 Z" fill="#000" stroke-width="0.8"/>
<path d="M241 319 L245 319" stroke-width="1.2"/>
</g>
<g fill="none" stroke="#000" stroke-width="0.75" stroke-dasharray="2.08 2.08" opacity="0.72">
<path d="M277.40 157.5 V653"/>
<path d="M313.91 157.5 V653"/>
<path d="M350.43 157.5 V653"/>
<path d="M386.95 157.5 V653"/>
<path d="M423.47 157.5 V653"/>
<path d="M459.98 157.5 V653"/>
<path d="M496.50 157.5 V653"/>
<path d="M533.02 157.5 V653"/>
<path d="M569.53 157.5 V653"/>
<path d="M606.05 157.5 V653"/>
<path d="M642.57 157.5 V653"/>
<path d="M679.08 157.5 V653"/>
<path d="M715.60 157.5 V653"/>
<path d="M241 208.30 H752"/>
<path d="M241 259.30 H752"/>
<path d="M241 309.55 H752"/>
<path d="M241 359.50 H752"/>
<path d="M241 409.60 H752"/>
<path d="M241 459.10 H752"/>
<path d="M241 507.50 H752"/>
<path d="M241 556.30 H752"/>
<path d="M241 604.50 H752"/>
<path d="M241 652.70 H752"/>
</g>
<g fill="#ffff00" stroke="#008000" stroke-width="1.25" stroke-linejoin="bevel">
<path d="M559.40 355.10 L560.59 358.76 L564.44 358.76 L561.33 361.03 L562.52 364.69 L559.40 362.42 L556.28 364.69 L557.47 361.03 L554.36 358.76 L558.21 358.76 Z"/>
<path d="M512.30 397.20 L513.49 400.86 L517.34 400.86 L514.23 403.13 L515.42 406.79 L512.30 404.52 L509.18 406.79 L510.37 403.13 L507.26 400.86 L511.11 400.86 Z"/>
<path d="M534.30 400.10 L535.49 403.76 L539.34 403.76 L536.23 406.03 L537.42 409.69 L534.30 407.42 L531.18 409.69 L532.37 406.03 L529.26 403.76 L533.11 403.76 Z"/>
<path d="M568.40 395.00 L569.59 398.66 L573.44 398.66 L570.33 400.93 L571.52 404.59 L568.40 402.32 L565.28 404.59 L566.47 400.93 L563.36 398.66 L567.21 398.66 Z"/>
<path d="M557.40 410.90 L558.59 414.56 L562.44 414.56 L559.33 416.83 L560.52 420.49 L557.40 418.22 L554.28 420.49 L555.47 416.83 L552.36 414.56 L556.21 414.56 Z"/>
<path d="M540.40 421.20 L541.59 424.86 L545.44 424.86 L542.33 427.13 L543.52 430.79 L540.40 428.52 L537.28 430.79 L538.47 427.13 L535.36 424.86 L539.21 424.86 Z"/>
<path d="M508.50 431.40 L509.69 435.06 L513.54 435.06 L510.43 437.33 L511.62 440.99 L508.50 438.72 L505.38 440.99 L506.57 437.33 L503.46 435.06 L507.31 435.06 Z"/>
<path d="M573.50 442.40 L574.69 446.06 L578.54 446.06 L575.43 448.33 L576.62 451.99 L573.50 449.72 L570.38 451.99 L571.57 448.33 L568.46 446.06 L572.31 446.06 Z"/>
<path d="M537.50 450.20 L538.69 453.86 L542.54 453.86 L539.43 456.13 L540.62 459.79 L537.50 457.52 L534.38 459.79 L535.57 456.13 L532.46 453.86 L536.31 453.86 Z"/>
<path d="M510.50 453.30 L511.69 456.96 L515.54 456.96 L512.43 459.23 L513.62 462.89 L510.50 460.62 L507.38 462.89 L508.57 459.23 L505.46 456.96 L509.31 456.96 Z"/>
<path d="M546.50 468.20 L547.69 471.86 L551.54 471.86 L548.43 474.13 L549.62 477.79 L546.50 475.52 L543.38 477.79 L544.57 474.13 L541.46 471.86 L545.31 471.86 Z"/>
<path d="M546.50 515.30 L547.69 518.96 L551.54 518.96 L548.43 521.23 L549.62 524.89 L546.50 522.62 L543.38 524.89 L544.57 521.23 L541.46 518.96 L545.31 518.96 Z"/>
</g>
</g>
<g fill="none" stroke="#000">
<path d="M242 87.5 H751 M242 122.5 H751" stroke="#6a6a6a" stroke-width="1"/>
<path d="M789.5 158 V652 M825.5 158 V652" stroke="#6a6a6a" stroke-width="1"/>
<path d="M241.5 157 V653.4" stroke-width="1.1"/>
<path d="M241 653.2 H752" stroke-width="1.4"/>
<path d="M242 156.5 V54.5 H862 V653.1 H752" stroke-width="2.1" stroke-linejoin="miter"/>
<path d="M241 157.5 H863" stroke-width="3"/>
<path d="M752.6 53.5 V654.1" stroke-width="3.2"/>
<rect x="158.5" y="690.5" width="787" height="38" stroke-width="1"/>
</g>
<g opacity="0.999">
<text x="245.1" y="45.2" text-anchor="start" font-size="22.4" textLength="88.9" lengthAdjust="spacingAndGlyphs">SAETTA</text>
<text x="342.0" y="45.2" text-anchor="start" font-size="22.4" textLength="100.2" lengthAdjust="spacingAndGlyphs">Realtime</text>
<text x="450.8" y="45.2" text-anchor="start" font-size="22.4" textLength="105.7" lengthAdjust="spacingAndGlyphs">Lightning</text>
<text x="564.2" y="45.2" text-anchor="start" font-size="22.4" textLength="97.1" lengthAdjust="spacingAndGlyphs">Mapping</text>
<text x="669.4" y="45.2" text-anchor="start" font-size="22.4" textLength="61.4" lengthAdjust="spacingAndGlyphs">Array</text>
<text x="739.5" y="45.2" text-anchor="start" font-size="22.4" textLength="9.0" lengthAdjust="spacingAndGlyphs">-</text>
<text x="754.7" y="45.2" text-anchor="start" font-size="22.4" textLength="102.0" lengthAdjust="spacingAndGlyphs">25/11/18</text>
<text x="433.0" y="718.6" text-anchor="start" font-size="19.4" textLength="43.8" lengthAdjust="spacingAndGlyphs">from</text>
<text x="483.1" y="718.6" text-anchor="start" font-size="19.4" textLength="83.8" lengthAdjust="spacingAndGlyphs">22:40:00</text>
<text x="573.2" y="718.6" text-anchor="start" font-size="19.4" textLength="18.3" lengthAdjust="spacingAndGlyphs">to</text>
<text x="597.2" y="718.6" text-anchor="start" font-size="19.4" textLength="84.4" lengthAdjust="spacingAndGlyphs">22:49:59</text>
<text x="219.1" y="52.1" text-anchor="start" font-size="10.4" textLength="11.7" lengthAdjust="spacingAndGlyphs">15</text>
<text x="219.1" y="87.3" text-anchor="start" font-size="10.4" textLength="11.7" lengthAdjust="spacingAndGlyphs">10</text>
<text x="220.1" y="122.1" text-anchor="start" font-size="10.4" textLength="6.3" lengthAdjust="spacingAndGlyphs">5</text>
<text x="220.1" y="156.7" text-anchor="start" font-size="10.4" textLength="6.3" lengthAdjust="spacingAndGlyphs">0</text>
<text x="185.9" y="104.8" text-anchor="start" font-size="11.3" textLength="19.0" lengthAdjust="spacingAndGlyphs">Km</text>
<text x="753.1" y="666.7" text-anchor="start" font-size="10.4" textLength="6.3" lengthAdjust="spacingAndGlyphs">0</text>
<text x="789.3" y="666.7" text-anchor="start" font-size="10.4" textLength="6.1" lengthAdjust="spacingAndGlyphs">5</text>
<text x="825.7" y="666.7" text-anchor="start" font-size="10.4" textLength="11.7" lengthAdjust="spacingAndGlyphs">10</text>
<text x="862.5" y="666.7" text-anchor="start" font-size="10.4" textLength="11.5" lengthAdjust="spacingAndGlyphs">15</text>
<text x="807.1" y="676.4" text-anchor="start" font-size="11.3" textLength="19.0" lengthAdjust="spacingAndGlyphs">Km</text>
<text x="198.9" y="211.3" text-anchor="start" font-size="10.4" textLength="35.1" lengthAdjust="spacingAndGlyphs">44.5°N</text>
<text x="208.9" y="262.3" text-anchor="start" font-size="10.4" textLength="25.1" lengthAdjust="spacingAndGlyphs">44°N</text>
<text x="198.9" y="312.6" text-anchor="start" font-size="10.4" textLength="35.1" lengthAdjust="spacingAndGlyphs">43.5°N</text>
<text x="208.9" y="362.5" text-anchor="start" font-size="10.4" textLength="25.1" lengthAdjust="spacingAndGlyphs">43°N</text>
<text x="198.9" y="412.6" text-anchor="start" font-size="10.4" textLength="35.1" lengthAdjust="spacingAndGlyphs">42.5°N</text>
<text x="208.9" y="462.1" text-anchor="start" font-size="10.4" textLength="25.1" lengthAdjust="spacingAndGlyphs">42°N</text>
<text x="198.9" y="510.5" text-anchor="start" font-size="10.4" textLength="35.1" lengthAdjust="spacingAndGlyphs">41.5°N</text>
<text x="208.9" y="559.3" text-anchor="start" font-size="10.4" textLength="25.1" lengthAdjust="spacingAndGlyphs">41°N</text>
<text x="198.9" y="607.5" text-anchor="start" font-size="10.4" textLength="35.1" lengthAdjust="spacingAndGlyphs">40.5°N</text>
<text x="208.9" y="655.7" text-anchor="start" font-size="10.4" textLength="25.1" lengthAdjust="spacingAndGlyphs">40°N</text>
<text x="232.7" y="666.7" text-anchor="start" font-size="10.4" textLength="16.9" lengthAdjust="spacingAndGlyphs">5°E</text>
<text x="264.1" y="666.7" text-anchor="start" font-size="10.4" textLength="27.2" lengthAdjust="spacingAndGlyphs">5.5°E</text>
<text x="305.7" y="666.7" text-anchor="start" font-size="10.4" textLength="16.9" lengthAdjust="spacingAndGlyphs">6°E</text>
<text x="337.1" y="666.7" text-anchor="start" font-size="10.4" textLength="27.2" lengthAdjust="spacingAndGlyphs">6.5°E</text>
<text x="378.8" y="666.7" text-anchor="start" font-size="10.4" textLength="16.9" lengthAdjust="spacingAndGlyphs">7°E</text>
<text x="410.1" y="666.7" text-anchor="start" font-size="10.4" textLength="27.2" lengthAdjust="spacingAndGlyphs">7.5°E</text>
<text x="451.8" y="666.7" text-anchor="start" font-size="10.4" textLength="16.9" lengthAdjust="spacingAndGlyphs">8°E</text>
<text x="483.2" y="666.7" text-anchor="start" font-size="10.4" textLength="27.2" lengthAdjust="spacingAndGlyphs">8.5°E</text>
<text x="524.8" y="666.7" text-anchor="start" font-size="10.4" textLength="16.9" lengthAdjust="spacingAndGlyphs">9°E</text>
<text x="556.2" y="666.7" text-anchor="start" font-size="10.4" textLength="27.2" lengthAdjust="spacingAndGlyphs">9.5°E</text>
<text x="594.8" y="666.7" text-anchor="start" font-size="10.4" textLength="23.0" lengthAdjust="spacingAndGlyphs">10°E</text>
<text x="626.2" y="666.7" text-anchor="start" font-size="10.4" textLength="33.2" lengthAdjust="spacingAndGlyphs">10.5°E</text>
<text x="667.9" y="666.7" text-anchor="start" font-size="10.4" textLength="23.0" lengthAdjust="spacingAndGlyphs">11°E</text>
<text x="699.3" y="666.7" text-anchor="start" font-size="10.4" textLength="33.2" lengthAdjust="spacingAndGlyphs">11.5°E</text>
</g>
</svg>
</body></html>
